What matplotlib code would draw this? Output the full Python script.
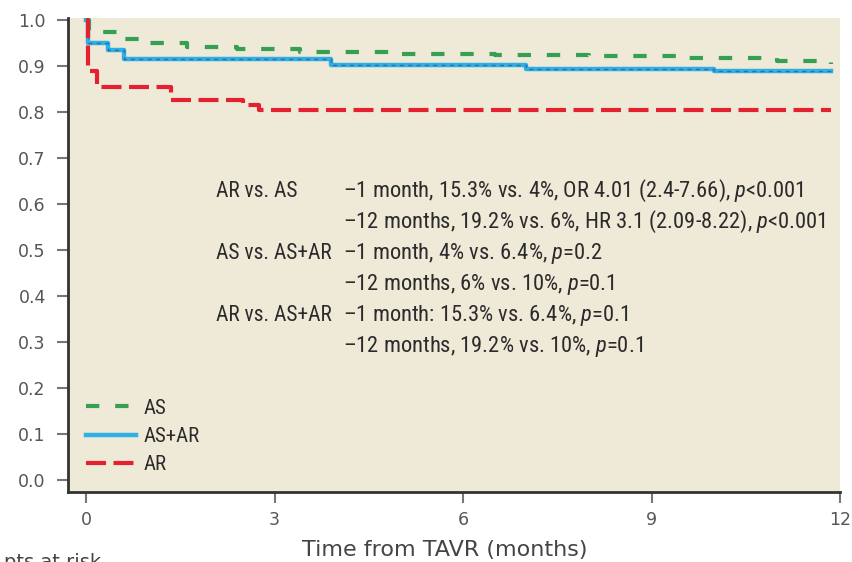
import matplotlib
matplotlib.use("Agg")
import matplotlib.pyplot as plt
from matplotlib import font_manager

# ---- data ----
as_t = [0, 0.05, 0.5, 1.0, 1.6, 2.4, 3.4, 5.0, 6.5, 8.0, 9.5, 11.0, 11.85]
as_s = [1.0, 0.975, 0.96, 0.95, 0.943, 0.937, 0.93, 0.927, 0.925, 0.922, 0.918, 0.912, 0.905]
asar_t = [0, 0.03, 0.35, 0.6, 3.9, 7.0, 10.0, 11.85]
asar_s = [1.0, 0.95, 0.935, 0.915, 0.903, 0.895, 0.889, 0.889]
ar_t = [0, 0.03, 0.17, 1.35, 2.5, 2.75, 11.85]
ar_s = [1.0, 0.89, 0.855, 0.826, 0.815, 0.805, 0.805]

x_ticks = [0, 3, 6, 9, 12]
y_ticks = [0.0, 0.1, 0.2, 0.3, 0.4, 0.5, 0.6, 0.7, 0.8, 0.9, 1.0]

labels = ["AR vs. AS", "", "AS vs. AS+AR", "", "AR vs. AS+AR", ""]
details = [
    r"–1 month, 15.3% vs. 4%, OR 4.01 (2.4-7.66), $p$<0.001",
    r"–12 months, 19.2% vs. 6%, HR 3.1 (2.09-8.22), $p$<0.001",
    r"–1 month, 4% vs. 6.4%, $p$=0.2",
    r"–12 months, 6% vs. 10%, $p$=0.1",
    r"–1 month: 15.3% vs. 6.4%, $p$=0.1",
    r"–12 months, 19.2% vs. 10%, $p$=0.1",
]

names = {f.name for f in font_manager.fontManager.ttflist}
cond = None
for cand in ["Liberation Sans Narrow", "DejaVu Sans Condensed", "Roboto Condensed", "Open Sans Condensed"]:
    if cand in names:
        cond = cand
        break
cond_family = [cond, "DejaVu Sans"] if cond else ["DejaVu Sans"]
plt.rcParams["mathtext.fontset"] = "custom"
if cond:
    plt.rcParams["mathtext.it"] = cond + ":italic"
    plt.rcParams["mathtext.rm"] = cond

fig = plt.figure(figsize=(8.52, 5.62), dpi=100)
ax = fig.add_axes([68/852, 70/562, (840-68)/852, (492-18)/562])
ax.set_facecolor("#efe9d8")

ax.plot(as_t, as_s, drawstyle="steps-post", color="#35a052", lw=3, dashes=(3.2, 3.8), label="AS")
ax.plot(asar_t, asar_s, drawstyle="steps-post", color="#2eb0e4", lw=3.2, label="AS+AR")
ax.plot(asar_t, asar_s, drawstyle="steps-post", color="#2a6fb5", lw=1, dashes=(3, 3))
ax.plot(ar_t, ar_s, drawstyle="steps-post", color="#e3212f", lw=3, dashes=(4.8, 1.8), label="AR")

ax.set_xlim(-0.29, 12.0)
ax.set_ylim(-0.026, 1.005)
ax.set_xticks(x_ticks)
ax.set_yticks(y_ticks)
ax.set_yticklabels([f"{v:.1f}" for v in y_ticks])
for s in ["top", "right"]:
    ax.spines[s].set_visible(False)
for s in ["left", "bottom"]:
    ax.spines[s].set_color("#333333")
    ax.spines[s].set_linewidth(2)
ax.tick_params(axis="both", colors="#777777", labelcolor="#555555", labelsize=12.5, width=1.5, length=8)
ax.tick_params(axis="y", pad=8)
ax.tick_params(axis="x", pad=6)

y0 = 0.628
dy = 0.0674
for i, (lab, det) in enumerate(zip(labels, details)):
    y = y0 - i * dy
    if lab:
        ax.text(2.07, y, lab, family=cond_family, fontsize=15.5, color="#2b2b2b", va="center")
    ax.text(4.09, y, det, family=cond_family, fontsize=16.2, color="#2b2b2b", va="center")

leg = ax.legend(loc="lower left", bbox_to_anchor=(0.0, 0.0), frameon=False,
                prop={"family": cond_family, "size": 15}, handlelength=2.4,
                labelspacing=0.45, handletextpad=0.4, borderaxespad=0.45)
for t in leg.get_texts():
    t.set_color("#2b2b2b")

ax.set_xlabel("Time from TAVR (months)", fontsize=16, color="#444444")
ax.xaxis.set_label_coords((445-68)/(840-68), -(550-492)/(492-18))
ax.xaxis.label.set_va("center")
fig.text(0.005, 9/562, "pts at risk", fontsize=14, color="#444444", va="top")

fig.savefig("out.png", dpi=100, facecolor="white")
